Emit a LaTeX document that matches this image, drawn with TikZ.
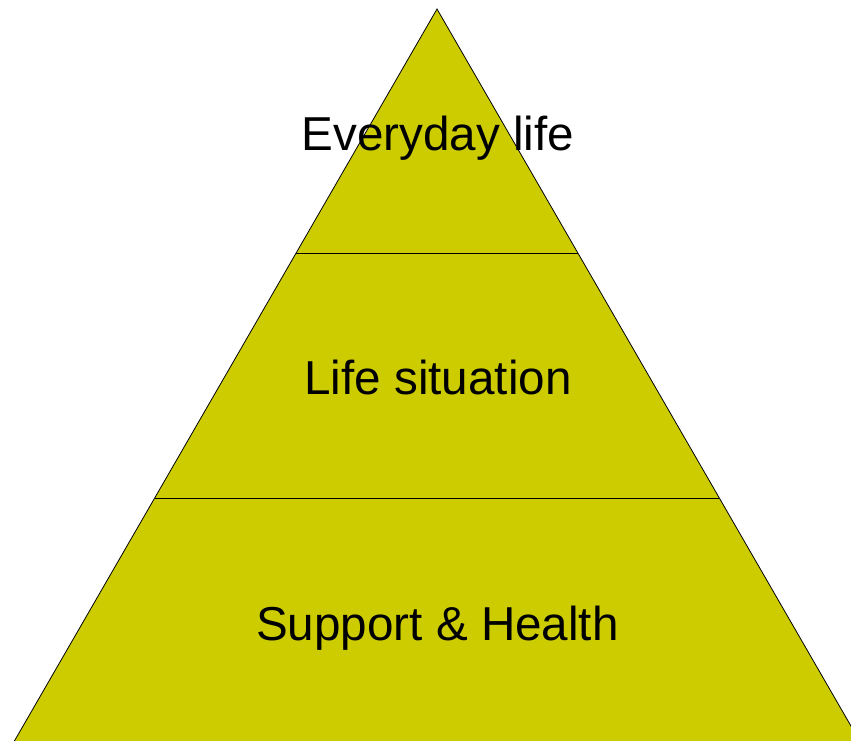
\documentclass[tikz,border=0pt]{standalone}
\usepackage{fontspec}
\setmainfont{Liberation Sans}
\definecolor{pyramidfill}{HTML}{CCCC00}
\begin{document}
\begin{tikzpicture}[x=1pt,y=-1pt,
  layer/.style={fill=pyramidfill,draw=black,line width=0.8pt,line join=miter},
  divider/.style={draw=black,line width=1pt},
  tier/.style={anchor=base,inner sep=0pt,font=\fontsize{47.6}{57}\selectfont,text=black}]
  \useasboundingbox (0,0) rectangle (851,740);
  \clip (0,0) rectangle (851,740);
  % pyramid outline (base runs past the lower edge and is cut off)
  \coordinate (apex) at (437,9);
  \coordinate (bl) at (11.5,746);
  \coordinate (br) at (862.5,746);
  \draw[layer] (apex) -- (bl) -- (br) -- cycle;
  % tier dividers
  \coordinate (d1l) at (296.1,253.5);
  \coordinate (d1r) at (577.9,253.5);
  \coordinate (d2l) at (154.7,498.5);
  \coordinate (d2r) at (719.3,498.5);
  \draw[divider] (d1l) -- (d1r);
  \draw[divider] (d2l) -- (d2r);
  % tier labels
  \node[tier] (top) at (438,150) {Everyday life};
  \node[tier] (mid) at (438,394) {Life situation};
  \node[tier] (base) at (437.5,640) {Support \& Health};
\end{tikzpicture}
\end{document}
